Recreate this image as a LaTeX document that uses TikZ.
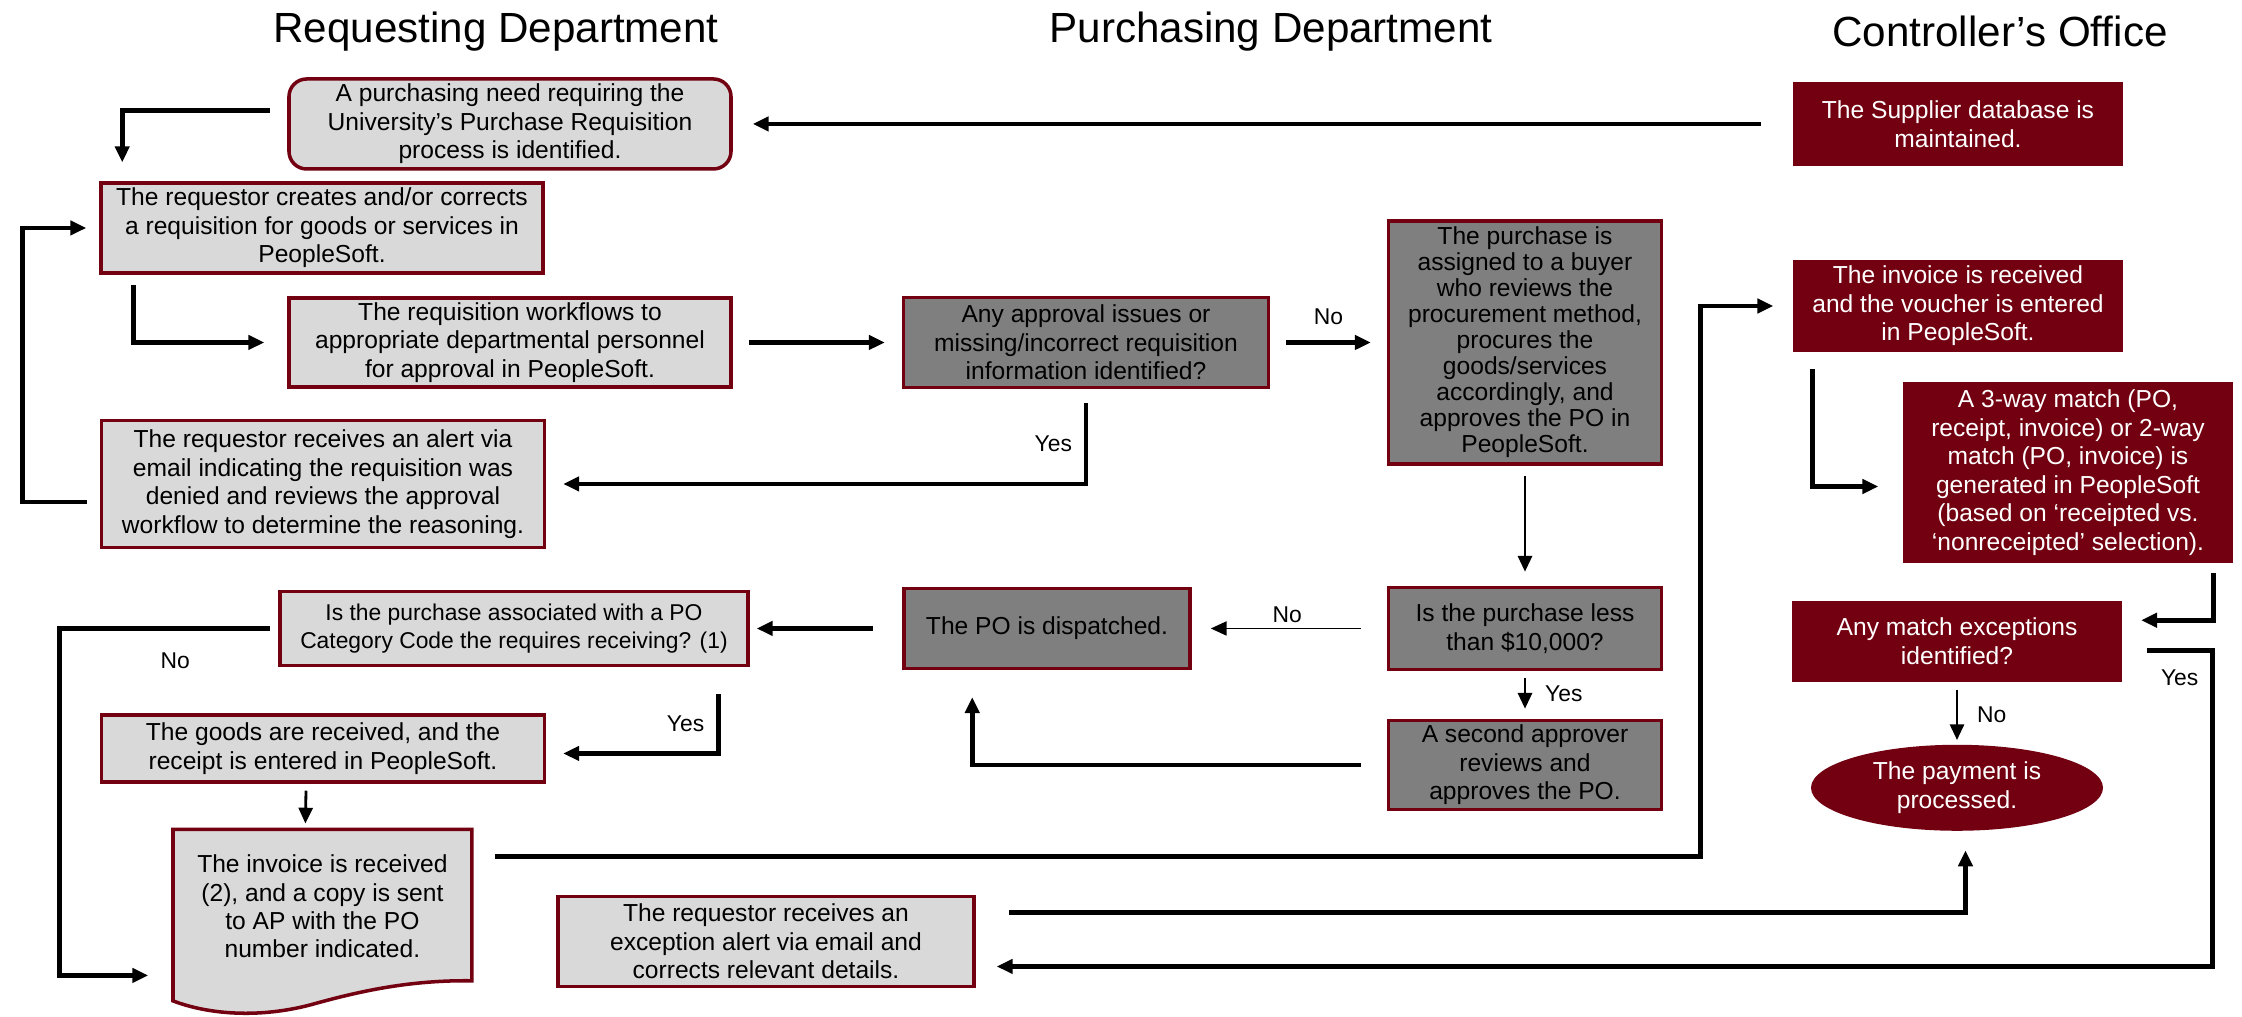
\documentclass[tikz,border=0pt]{standalone}
\usepackage{fontspec}
\setmainfont{Liberation Sans}
\usetikzlibrary{arrows.meta,shapes.geometric}

\definecolor{maroon}{HTML}{720010}
\definecolor{lightfill}{HTML}{D9D9D9}
\definecolor{darkfill}{HTML}{7F7F7F}

\tikzset{
  box/.style={draw=maroon, line width=1pt, align=center, inner sep=0pt,
    font=\fontsize{7}{8.1}\selectfont},
  lightbox/.style={box, fill=lightfill},
  darkbox/.style={box, fill=darkfill},
  ctrlbox/.style={fill=maroon, text=white, align=center, inner sep=0pt,
    font=\fontsize{7}{8.1}\selectfont},
  arr/.style={line width=1.3pt, -{Triangle[length=4.5pt,width=4pt]}},
  thinarr/.style={line width=0.8pt, -{Triangle[length=4.5pt,width=4pt]}},
  lbl/.style={font=\fontsize{6.5}{7}\selectfont},
  head/.style={font=\fontsize{12}{14}\selectfont}
}

\begin{document}
\begin{tikzpicture}[scale=1.0] %[x=1cm,y=1cm]
\useasboundingbox (0,0) rectangle (22.42,10.17);

\foreach \n/\x/\t in {req/4.96/{Requesting Department},pur/12.71/{Purchasing Department},con/20.00/{Controller’s Office}} {
\node[head] (\n) at (\x,9.855) {\t};
}

% requesting department
\node[lightbox, rounded corners=5pt, minimum width=4.42cm, minimum height=0.90cm] (need) at (5.10,8.93)
  {A purchasing need requiring the\\University’s Purchase Requisition\\process is identified.};
\node[lightbox, minimum width=4.42cm, minimum height=0.90cm] (creates) at (3.22,7.89)
  {The requestor creates and/or corrects\\a requisition for goods or services in\\PeopleSoft.};
\node[lightbox, minimum width=4.42cm, minimum height=0.89cm] (workflows) at (5.10,6.745)
  {The requisition workflows to\\appropriate departmental personnel\\for approval in PeopleSoft.};
\node[lightbox, minimum width=4.43cm, minimum height=1.27cm] (alert) at (3.23,5.33)
  {The requestor receives an alert via\\email indicating the requisition was\\denied and reviews the approval\\workflow to determine the reasoning.};
\node[lightbox, minimum width=4.68cm, minimum height=0.74cm, font=\fontsize{6.5}{8}\selectfont] (assoc) at (5.14,3.885)
  {Is the purchase associated with a PO\\Category Code the requires receiving? (1)};
\node[lightbox, minimum width=4.43cm, minimum height=0.67cm] (goods) at (3.23,2.685)
  {The goods are received, and the\\receipt is entered in PeopleSoft.};
\draw[draw=maroon, fill=lightfill, line width=1pt] (1.73,1.877) -- (4.718,1.877) -- (4.718,0.362)
  .. controls (4.1,0.37) and (3.6,0.26) .. (3.1,0.12)
  .. controls (2.6,-0.01) and (2.1,0.02) .. (1.73,0.161) -- cycle;
\node[box, draw=none, minimum width=2.99cm, minimum height=1.544cm] (inv) at (3.224,1.105)
  {The invoice is received\\(2), and a copy is sent\\to AP with the PO\\number indicated.};
\node[lightbox, minimum width=4.16cm, minimum height=0.90cm] (exception) at (7.66,0.755)
  {The requestor receives an\\exception alert via email and\\corrects relevant details.};

% purchasing department
\node[darkbox, minimum width=3.65cm, minimum height=0.90cm] (approval) at (10.86,6.745)
  {Any approval issues or\\missing/incorrect requisition\\information identified?};
\node[darkbox, minimum width=2.73cm, minimum height=2.43cm, font=\fontsize{7}{7.4}\selectfont] (assigned) at (15.25,6.745)
  {The purchase is\\assigned to a buyer\\who reviews the\\procurement method,\\procures the\\goods/services\\accordingly, and\\approves the PO in\\PeopleSoft.};
\node[darkbox, minimum width=2.73cm, minimum height=0.82cm] (less) at (15.25,3.885)
  {Is the purchase less\\than \$10,000?};
\node[darkbox, minimum width=2.73cm, minimum height=0.89cm] (second) at (15.25,2.52)
  {A second approver\\reviews and\\approves the PO.};
\node[darkbox, minimum width=2.86cm, minimum height=0.80cm] (dispatched) at (10.47,3.885)
  {The PO is dispatched.};

% controller's office
\node[ctrlbox, minimum width=3.30cm, minimum height=0.84cm] (supplier) at (19.58,8.93)
  {The Supplier database is\\maintained.};
\node[ctrlbox, minimum width=3.30cm, minimum height=0.915cm] (voucher) at (19.58,7.11)
  {The invoice is received\\and the voucher is entered\\in PeopleSoft.};
\node[ctrlbox, minimum width=3.30cm, minimum height=1.815cm] (threeway) at (20.68,5.445)
  {A 3-way match (PO,\\receipt, invoice) or 2-way\\match (PO, invoice) is\\generated in PeopleSoft\\(based on ‘receipted vs.\\‘nonreceipted’ selection).};
\node[ctrlbox, minimum width=3.30cm, minimum height=0.815cm] (match) at (19.57,3.757)
  {Any match exceptions\\identified?};
\node[ctrlbox, ellipse, minimum width=2.92cm, minimum height=0.86cm] (payment) at (19.57,2.292)
  {The payment is\\processed.};

% connectors
\draw[arr] ([xshift=-0.31cm]supplier.west) -- ([xshift=0.2cm]need.east);
\draw[arr] ([shift={(-0.17,0.135)}]need.west) -| ([shift={(0.23,0.19)}]creates.north west);
\draw[arr] ([shift={(0.34,-0.10)}]creates.south west) |- ([xshift=-0.23cm]workflows.west);
\draw[arr] ([xshift=0.16cm]workflows.east) -- ([xshift=-0.17cm]approval.west);
\draw[arr] ([xshift=0.16cm]approval.east) -- node[lbl, above=1pt] {No} ([xshift=-0.16cm]assigned.west);
\draw[arr] ([yshift=-0.14cm]approval.south) |- node[lbl, left, pos=0.25] {Yes} ([xshift=0.17cm]alert.east);
\draw[arr] ([shift={(-0.13,-0.18)}]alert.west) -- ++(-0.64,0) |- ([xshift=-0.13cm]creates.west);
\draw[thinarr] ([yshift=-0.1cm]assigned.south) -- ([yshift=0.14cm]less.north);
\draw[line width=0.5pt, -{Triangle[length=4.5pt,width=4pt]}] ([xshift=-0.26cm]less.west)
  -- node[lbl, above=-2pt, pos=0.49] {No} ([xshift=0.19cm]dispatched.east);
\draw[thinarr] ([yshift=-0.07cm]less.south) -- node[lbl, right=2pt] {Yes} ([yshift=0.1cm]second.north);
\draw[arr] ([xshift=-0.26cm]second.west) -| ([shift={(0.70,-0.27)}]dispatched.south west);
\draw[arr] ([xshift=-0.29cm]dispatched.west) -- ([xshift=0.07cm]assoc.east);
\draw[arr] ([xshift=-0.085cm]assoc.west) -- node[lbl, below=3pt, pos=0.45] {No} ++(-2.1,0)
  |- ([shift={(-0.23,0.10)}]inv.south west);
\draw[arr] ([shift={(-0.315,-0.27)}]assoc.south east) |- node[lbl, left, pos=0.25] {Yes} ([shift={(0.17,-0.05)}]goods.east);
\draw[thinarr] ([shift={(-0.17,-0.07)}]goods.south) -- ([shift={(-0.17,0.04)}]inv.north);
\draw[arr] ([shift={(0.215,0.50)}]inv.east) -- ++(12.053,0) |- ([xshift=-0.19cm]voucher.west);
\draw[arr] ([shift={(0.2,-0.17)}]voucher.south west) |- ([shift={(-0.24,-0.14)}]threeway.west);
\draw[arr] ([shift={(-0.2,-0.09)}]threeway.south east) |- ([shift={(0.185,0.21)}]match.east);
\draw[thinarr] ([yshift=-0.07cm]match.south) -- node[lbl, right=2pt] {No} ([yshift=0.04cm]payment.north);
\draw[arr] ([shift={(0.24,-0.09)}]match.east) -- node[lbl, below=1.5pt] {Yes} ++(0.66,0)
  |- ([shift={(0.21,-0.25)}]exception.east);
\draw[arr] ([shift={(0.33,0.29)}]exception.east) -| ([shift={(0.085,-0.19)}]payment.south);
\end{tikzpicture}
\end{document}
